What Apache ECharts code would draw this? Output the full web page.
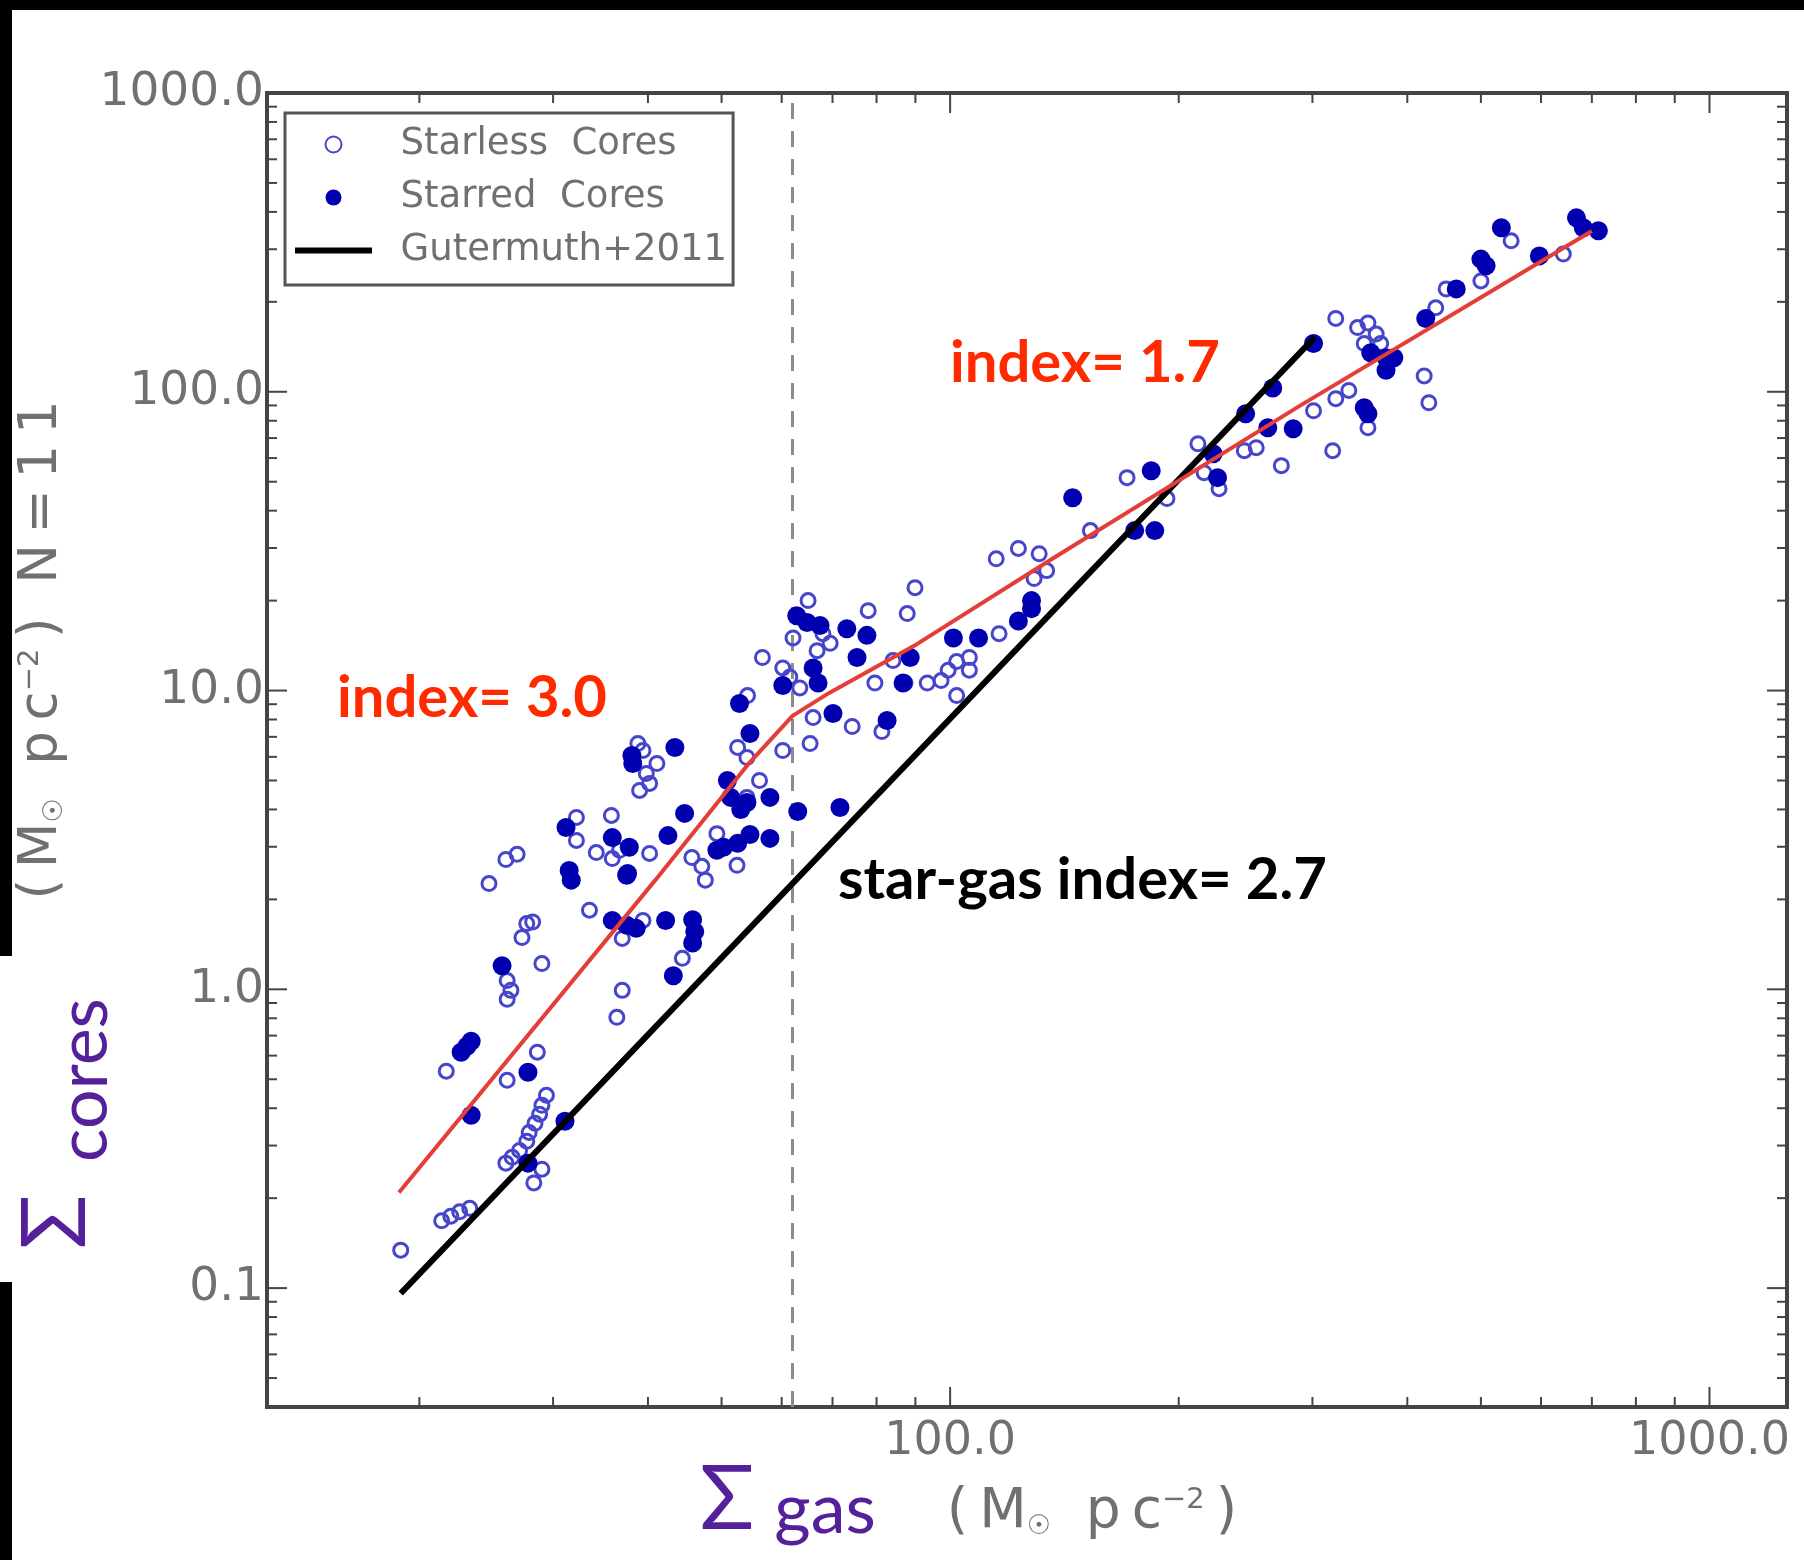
<!DOCTYPE html>
<html>
<head>
<meta charset="utf-8">
<style>
html,body{margin:0;padding:0;background:#ffffff;}
#chart{width:1804px;height:1560px;}
</style>
<script src="https://cdn.jsdelivr.net/npm/echarts@6/dist/echarts.min.js"></script>
</head>
<body>
<div id="chart"></div>
<script>
// ---------------- axis limits ----------------
const X_MIN = 12.6, X_MAX = 1265;
const Y_MIN = 0.04, Y_MAX = 1000;

// ---------------- tick lists ----------------
const xTickValues = [20,30,40,50,60,70,80,90,100,200,300,400,500,600,700,800,900,1000];
const xMajorTicks = [100,1000];
const yTickValues = [0.05,0.06,0.07,0.08,0.09,0.1,0.2,0.3,0.4,0.5,0.6,0.7,0.8,0.9,1,2,3,4,5,6,7,8,9,10,20,30,40,50,60,70,80,90,100,200,300,400,500,600,700,800,900,1000];
const yMajorTicks = [0.1,1,10,100,1000];

// ---------------- series names ----------------
const seriesNames = ['Starless  Cores', 'Starred  Cores', 'Gutermuth+2011'];

// ---------------- data (Sigma_gas, Sigma_cores) ----------------
const starlessCores = [
  [18.9,0.134],[21.4,0.168],[22.0,0.174],[22.6,0.180],[23.3,0.185],
  [21.7,0.532],[26.1,0.496],[28.6,0.616],[36.4,0.806],
  [26.1,1.07],[26.4,0.992],[26.1,0.926],
  [29.4,0.442],[29.0,0.409],[28.8,0.382],[28.4,0.356],[27.9,0.332],[27.7,0.310],[27.1,0.289],[26.5,0.274],[26.0,0.262],[29.0,0.250],[28.3,0.225],
  [24.7,2.26],[26.0,2.72],[26.9,2.83],[27.7,1.66],[28.2,1.68],[27.3,1.49],[29.0,1.22],[33.5,1.84],[37.0,0.992],[37.0,1.48],[39.4,1.70],
  [34.2,2.87],[35.9,2.74],[36.7,2.92],[32.2,3.76],[32.2,3.15],[35.8,3.82],
  [38.8,6.65],[39.4,6.30],[39.8,5.28],[40.2,4.89],[39.0,4.63],
  [41.1,5.70],[40.2,2.85],[45.7,2.76],[47.1,2.58],[47.6,2.32],[52.4,2.60],[49.3,3.32],[44.4,1.27],
  [56.6,12.9],[60.2,11.9],[61.5,11.1],[62.1,15.0],[52.5,6.45],[54.0,5.97],[54.1,9.62],[56.1,5.00],[54.0,4.39],[60.2,6.30],[65.4,6.65],
  [65.0,20.0],[63.4,10.2],[66.8,13.6],[68.0,15.5],[69.5,14.4],[66.0,8.12],
  [74.3,7.58],[81.3,7.29],[78.0,18.5],[87.8,18.1],[89.9,22.1],[84.1,12.6],[79.6,10.6],[87.2,10.6],[93.3,10.6],[97.3,10.8],[99.4,11.7],[102,12.5],[106,12.9],[106,11.7],[102,9.62],[116,15.5],
  [115,27.6],[123,29.9],[131,28.7],[134,25.2],[129,23.7],[153,34.3],[171,51.6],[193,43.9],[212,67.0],[216,53.6],[226,47.4],[244,63.5],[253,65.0],[273,56.6],
  [322,176],[344,164],[355,170],[351,145],[364,156],[369,145],[335,101],[322,94.8],[301,86.4],[355,75.8],[319,63.5],[421,113],[427,91.9],[436,191],[450,221],[500,235],[548,320],[642,289]
];

const starredCores = [
  [22.7,0.616],[23.1,0.645],[23.4,0.670],[27.8,0.528],[23.4,0.379],[31.1,0.362],[27.8,0.262],
  [31.5,2.50],[31.7,2.32],[31.2,3.48],[37.5,2.41],[25.7,1.20],[35.9,1.70],[37.5,1.64],[38.6,1.60],[35.9,3.22],[37.8,2.99],[37.6,2.44],[38.1,6.06],[38.2,5.70],
  [43.4,6.45],[44.7,3.88],[42.5,3.27],[52.8,9.05],[54.5,7.18],[50.9,5.00],[51.4,4.39],[53.0,4.00],[54.0,4.22],[57.9,4.39],[49.3,2.92],[50.3,2.99],[52.5,3.08],[54.5,3.30],[57.9,3.20],[63.0,3.94],[71.6,4.06],
  [62.8,17.8],[64.8,16.9],[67.4,16.5],[73.1,16.1],[66.0,11.9],[67.0,10.6],[60.2,10.4],[70.1,8.38],[42.2,1.70],[45.8,1.71],[46.1,1.56],[45.8,1.43],[43.2,1.11],
  [77.7,15.3],[75.4,12.9],[82.6,7.94],[86.7,10.6],[88.6,12.9],[101,15.0],[109,15.0],[123,17.1],[128,20.0],[128,18.8],[145,44.2],[175,34.3],[186,34.3],[184,54.4],[222,62.0],[225,51.6],[245,84.4],[262,75.8],[266,103],[283,75.2],
  [301,145],[358,135],[375,130],[384,130],[375,118],[351,88.4],[355,84.4],[423,176],[464,221],[500,278],[508,264],[532,354],[597,285],[668,382],[682,354],[714,346]
];

const gutermuthLine = [[18.9,0.096],[302,152]];

const fitLine = [[18.8,0.209],[40.9,2.32],[54.4,5.73],[62.0,8.23],[69.3,9.82],[90.4,14.3],[135,27.2],[289,89.9],[700,345]];

const thresholdGas = 62;

// ---------------- annotation texts ----------------
const annoLow = 'index= 3.0';
const annoHigh = 'index= 1.7';
const annoStarGas = 'star-gas index= 2.7';

// ---------------- styling ----------------
const AXIS_COLOR = '#444444';
const LABEL_GRAY = '#707070';
const PURPLE = '#54219b';
const ANNO_RED = '#ff2a00';

const chart = echarts.init(document.getElementById('chart'), null, {renderer: 'canvas'});

function xTickItem(params, api) {
  const v = api.value(0);
  const isMajor = api.value(2) === 1;
  const cs = params.coordSys;
  const px = api.coord([v, 1])[0];
  const len = isMajor ? 20 : 10;
  const bottom = cs.y + cs.height, top = cs.y;
  return {type: 'group', children: [
    {type: 'line', shape: {x1: px, y1: bottom, x2: px, y2: bottom - len}, style: {stroke: AXIS_COLOR, lineWidth: 2}},
    {type: 'line', shape: {x1: px, y1: top, x2: px, y2: top + len}, style: {stroke: AXIS_COLOR, lineWidth: 2}}
  ]};
}
function yTickItem(params, api) {
  const v = api.value(1);
  const isMajor = api.value(2) === 1;
  const cs = params.coordSys;
  const py = api.coord([100, v])[1];
  const len = isMajor ? 20 : 10;
  const left = cs.x, right = cs.x + cs.width;
  return {type: 'group', children: [
    {type: 'line', shape: {x1: left, y1: py, x2: left + len, y2: py}, style: {stroke: AXIS_COLOR, lineWidth: 2}},
    {type: 'line', shape: {x1: right, y1: py, x2: right - len, y2: py}, style: {stroke: AXIS_COLOR, lineWidth: 2}}
  ]};
}

const unitRich = {
  s: {fontSize: 27, fontFamily: 'DejaVu Sans', fill: LABEL_GRAY, verticalAlign: 'bottom'},
  p: {fontSize: 29, fontFamily: 'DejaVu Sans', fill: LABEL_GRAY, verticalAlign: 'top'}
};

const option = {
  animation: false,
  backgroundColor: '#ffffff',
  grid: {
    left: 267, right: 17, top: 93, bottom: 153,
    show: true, borderColor: AXIS_COLOR, borderWidth: 4,
    backgroundColor: 'transparent',
    containLabel: false,
    outerBoundsMode: 'none'
  },
  legend: {
    data: [
      {name: seriesNames[0]},
      {name: seriesNames[1]},
      {name: seriesNames[2], icon: 'path://M0,0L77,0L77,6L0,6Z'}
    ],
    orient: 'vertical',
    left: 285, top: 113,
    padding: [13, 6, 16, 10],
    itemWidth: 77, itemHeight: 16, itemGap: 16,
    borderColor: '#555555', borderWidth: 3,
    backgroundColor: '#ffffff',
    selectedMode: false,
    formatter: function (name) { return '  ' + name; },
    textStyle: {fontFamily: 'DejaVu Sans', fontSize: 37, color: LABEL_GRAY}
  },
  xAxis: {
    type: 'log', logBase: 10, min: X_MIN, max: X_MAX,
    axisLine: {show: false}, axisTick: {show: false}, splitLine: {show: false},
    axisLabel: {
      showMinLabel: false, showMaxLabel: false, interval: 0, margin: 12,
      fontFamily: 'DejaVu Sans', fontSize: 46, color: LABEL_GRAY,
      formatter: function (v) { return Number(v).toFixed(1); }
    }
  },
  yAxis: {
    type: 'log', logBase: 10, min: Y_MIN, max: Y_MAX,
    axisLine: {show: false}, axisTick: {show: false}, splitLine: {show: false},
    axisLabel: {
      showMinLabel: false, showMaxLabel: true, interval: 0, margin: 3,
      fontFamily: 'DejaVu Sans', fontSize: 47, color: LABEL_GRAY,
      formatter: function (v) { return Number(v).toFixed(1); }
    }
  },
  series: [
    {
      name: 'threshold', type: 'line', silent: true, z: 1,
      data: [[thresholdGas, Y_MIN], [thresholdGas, Y_MAX]],
      symbol: 'none',
      lineStyle: {color: '#8c8c8c', width: 3, type: [16, 12]}
    },
    {
      name: seriesNames[0], type: 'scatter', z: 3,
      data: starlessCores,
      symbol: 'circle', symbolSize: 14,
      itemStyle: {color: 'rgba(255,255,255,0)', borderColor: '#4646cc', borderWidth: 3, opacity: 1}
    },
    {
      name: seriesNames[1], type: 'scatter', z: 3,
      data: starredCores,
      symbol: 'circle', symbolSize: 19,
      itemStyle: {color: '#0000b0', borderWidth: 0, opacity: 1}
    },
    {
      name: seriesNames[2], type: 'line', z: 4,
      data: gutermuthLine,
      symbol: 'none',
      lineStyle: {color: '#000000', width: 6},
      itemStyle: {color: '#000000'}
    },
    {
      name: 'fit', type: 'line', z: 5,
      data: fitLine,
      symbol: 'none',
      lineStyle: {color: '#e53d37', width: 4},
      itemStyle: {color: '#e53d37'}
    },
    {
      name: 'xticks', type: 'custom', silent: true, z: 6,
      renderItem: xTickItem,
      data: xTickValues.map(function (v) { return [v, 1, xMajorTicks.indexOf(v) >= 0 ? 1 : 0]; })
    },
    {
      name: 'yticks', type: 'custom', silent: true, z: 6,
      renderItem: yTickItem,
      data: yTickValues.map(function (v) { return [100, v, yMajorTicks.indexOf(v) >= 0 ? 1 : 0]; })
    }
  ],
  graphic: [
    // annotation texts
    {type: 'text', x: 337, y: 698, z: 50,
     style: {text: annoLow, fontFamily: 'Lato', fontWeight: 'bold', fontSize: 58, fill: ANNO_RED, textAlign: 'left', textVerticalAlign: 'middle', align: 'left', verticalAlign: 'middle'}},
    {type: 'text', x: 950, y: 363, z: 50,
     style: {text: annoHigh, fontFamily: 'Lato', fontWeight: 'bold', fontSize: 58, fill: ANNO_RED, textAlign: 'left', textVerticalAlign: 'middle', align: 'left', verticalAlign: 'middle'}},
    {type: 'text', x: 838, y: 880, z: 50,
     style: {text: annoStarGas, fontFamily: 'Lato', fontWeight: 'bold', fontSize: 58, fill: '#000000', textAlign: 'left', textVerticalAlign: 'middle', align: 'left', verticalAlign: 'middle'}},
    // y-axis unit title (gray, rotated)
    {type: 'text', x: 42, y: 650, rotation: Math.PI / 2, z: 40,
     style: {text: '(\u2009M{s|\u2609}  p\u2009c{p|\u22122}\u2009)  N\u2009=\u20091\u20091',
             fontFamily: 'DejaVu Sans', fontSize: 53, fill: LABEL_GRAY, rich: unitRich,
             textAlign: 'center', textVerticalAlign: 'middle', align: 'center', verticalAlign: 'middle'}},
    // x-axis unit title (gray)
    {type: 'text', x: 1092, y: 1513, z: 40,
     style: {text: '(\u2009M{s|\u2609}  p\u2009c{p|\u22122}\u2009)',
             fontFamily: 'DejaVu Sans', fontSize: 55, fill: LABEL_GRAY, rich: unitRich,
             textAlign: 'center', textVerticalAlign: 'middle', align: 'center', verticalAlign: 'middle'}},
    // purple Sigma gas
    {type: 'text', x: 727, y: 1500, z: 40,
     style: {text: '\u03A3', fontFamily: 'Lato, "Noto Sans", sans-serif', fontSize: 90, fill: PURPLE,
             textAlign: 'center', textVerticalAlign: 'middle', align: 'center', verticalAlign: 'middle'}},
    {type: 'text', x: 825, y: 1510, z: 40,
     style: {text: 'gas', fontFamily: 'Lato, "Noto Sans", sans-serif', fontSize: 70, fill: PURPLE,
             textAlign: 'center', textVerticalAlign: 'middle', align: 'center', verticalAlign: 'middle'}},
    // purple Sigma cores (rotated)
    {type: 'text', x: 56, y: 1222, rotation: Math.PI / 2, z: 40,
     style: {text: '\u03A3', fontFamily: 'Lato, "Noto Sans", sans-serif', fontSize: 90, fill: PURPLE,
             textAlign: 'center', textVerticalAlign: 'middle', align: 'center', verticalAlign: 'middle'}},
    {type: 'text', x: 84, y: 1080, rotation: Math.PI / 2, z: 40,
     style: {text: 'cores', fontFamily: 'Lato, "Noto Sans", sans-serif', fontSize: 70, fill: PURPLE,
             textAlign: 'center', textVerticalAlign: 'middle', align: 'center', verticalAlign: 'middle'}},
    // black slide edges
    {type: 'rect', z: 100, shape: {x: 0, y: 0, width: 1804, height: 10}, style: {fill: '#000000'}},
    {type: 'rect', z: 100, shape: {x: 0, y: 0, width: 12, height: 956}, style: {fill: '#000000'}},
    {type: 'rect', z: 100, shape: {x: 0, y: 1282, width: 12, height: 278}, style: {fill: '#000000'}}
  ]
};

chart.setOption(option);
</script>
</body>
</html>
